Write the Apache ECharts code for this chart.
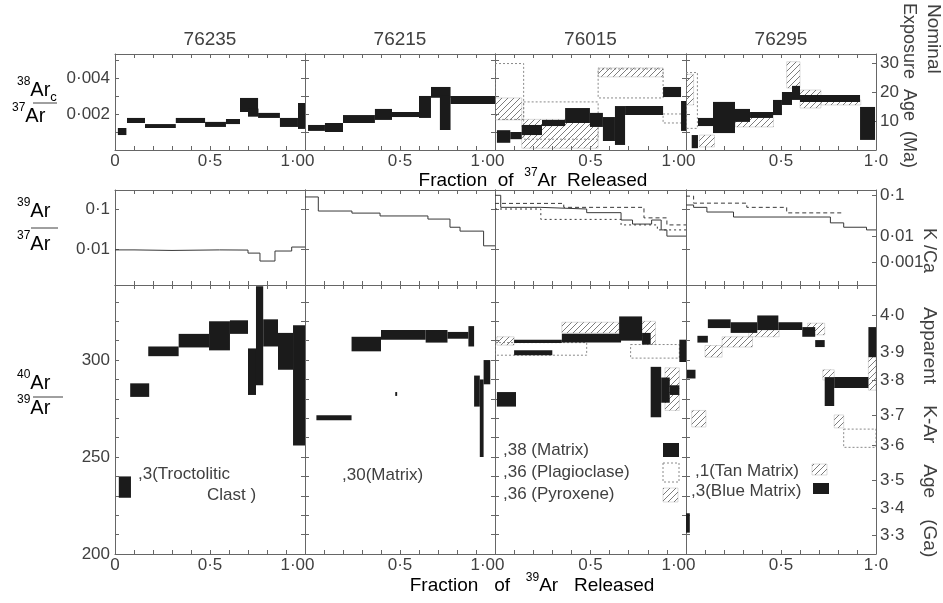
<!DOCTYPE html>
<html><head><meta charset="utf-8">
<script src="https://cdn.jsdelivr.net/npm/echarts@6/dist/echarts.min.js"></script>
<style>html,body{margin:0;padding:0;background:#fff}#c{width:943px;height:603px}</style>
</head><body><div id="c"></div>
<script>
// ---------------- DATA ----------------
const samples = ['76235', '76215', '76015', '76295'];
const xLabelValues = [0, 0.5, 1];
const xLabelText = ['0', '0·5', '1·0'];
// top row: 38Ar_c/37Ar boxes [x0, x1, low, high]
const top76235 = [[0.015,0.06,0.00083,0.00122],[0.063,0.158,0.0015,0.00178],[0.158,0.32,0.00122,0.00144],[0.32,0.474,0.0015,0.00178],[0.474,0.584,0.00128,0.00156],[0.584,0.658,0.00144,0.00172],[0.658,0.753,0.00211,0.00289],[0.7,0.755,0.00185,0.0023],[0.753,0.868,0.00178,0.00206],[0.868,0.963,0.00128,0.00178],[0.963,1.0,0.00117,0.00261]];
const top76215 = [[0.016,0.105,0.00106,0.00139],[0.105,0.2,0.001,0.0015],[0.2,0.368,0.0015,0.00194],[0.368,0.458,0.00167,0.00228],[0.458,0.6,0.00183,0.00211],[0.6,0.663,0.00178,0.003],[0.663,0.766,0.0029,0.0035],[0.71,0.766,0.00111,0.003],[0.766,1.0,0.00256,0.003]];
const top76015Matrix = [[0.01,0.08,0.0004,0.0011],[0.08,0.14,0.0006,0.001],[0.14,0.246,0.00083,0.00139],[0.246,0.367,0.00133,0.00167],[0.367,0.497,0.0015,0.00233],[0.497,0.565,0.00128,0.00206],[0.565,0.628,0.0005,0.00183],[0.628,0.681,0.00028,0.00244],[0.681,0.88,0.00194,0.00244],[0.88,0.974,0.00294,0.0035],[0.974,1.0,0.00106,0.00272]];
const top76015Pyx = [[0.0,0.14,0.00167,0.00289],[0.14,0.54,0.0001,0.0017],[0.54,0.88,0.00406,0.00456]];
const top76015Plag = [[0.0,0.15,0.0017,0.0048],[0.15,0.54,0.0006,0.00267],[0.54,0.88,0.00289,0.0045],[0.88,1.0,0.0015,0.002]];
const top76295Blue = [[0.03,0.063,0.0001,0.00083],[0.063,0.142,0.00133,0.00178],[0.142,0.258,0.00094,0.00267],[0.258,0.337,0.00156,0.00228],[0.337,0.458,0.00178,0.00211],[0.458,0.505,0.00194,0.00278],[0.505,0.558,0.0025,0.00322],[0.558,0.6,0.00278,0.00356],[0.6,0.916,0.00267,0.00306],[0.916,0.995,0.00056,0.00239]];
const top76295Tan = [[0.0,0.04,0.0025,0.0042],[0.07,0.15,0.00017,0.00083],[0.26,0.46,0.00128,0.00194],[0.53,0.6,0.00344,0.0049],[0.6,0.71,0.00233,0.00333],[0.71,0.92,0.0025,0.00278]];
const top76295Dash = [[0.0,0.06,0.0012,0.0043]];
// middle row: 39Ar/37Ar steps [x0, x1, value]
const mid76235 = [[0,0.1,0.0095],[0.1,0.3,0.0092],[0.3,0.55,0.0095],[0.55,0.7,0.0094],[0.7,0.763,0.0079],[0.763,0.842,0.005],[0.842,0.93,0.0089],[0.93,1.0,0.0112]];
const mid76215 = [[0,0.07,0.2],[0.07,0.247,0.089],[0.247,0.395,0.079],[0.395,0.647,0.067],[0.647,0.763,0.056],[0.763,0.816,0.035],[0.816,0.94,0.028],[0.94,1.0,0.012]];
const mid76015Matrix = [[0,0.03,0.22],[0.03,0.24,0.11],[0.24,0.48,0.1],[0.48,0.66,0.081],[0.66,0.72,0.053],[0.72,0.82,0.042],[0.82,0.87,0.053],[0.87,0.9,0.03],[0.9,1.0,0.021]];
const mid76015Plag = [[0,0.36,0.138],[0.36,0.78,0.11],[0.78,0.9,0.06],[0.9,1.0,0.04]];
const mid76015Pyx = [[0,0.24,0.1],[0.24,0.66,0.055],[0.66,0.85,0.04],[0.85,1.0,0.03]];
const mid76295Blue = [[0,0.04,0.126],[0.04,0.11,0.11],[0.11,0.25,0.084],[0.25,0.76,0.063],[0.76,0.83,0.045],[0.83,0.95,0.035],[0.95,1.0,0.03]];
const mid76295Tan = [[0,0.04,0.21],[0.04,0.32,0.14],[0.32,0.53,0.11],[0.53,0.83,0.08]];
// bottom row: 40Ar/39Ar boxes [x0, x1, low, high]
const bot76235 = [[0.02,0.084,229,240],[0.08,0.18,281,288],[0.175,0.335,302,307],[0.335,0.495,306.5,313.5],[0.495,0.605,305,320],[0.605,0.7,313.5,320.5],[0.7,0.742,282,306],[0.742,0.78,287,338],[0.78,0.858,307,321],[0.858,0.937,295,314],[0.937,1.0,256,318]];
const bot76215 = [[0.06,0.245,269,271.5],[0.475,0.485,281.5,283.5],[0.245,0.4,304.5,312],[0.4,0.635,310.5,315.5],[0.635,0.75,309,315.5],[0.75,0.86,311,314.5],[0.86,0.89,307,317.5],[0.89,0.92,276,292],[0.92,0.94,250,290],[0.94,0.975,287.5,300]];
const bot76015Matrix = [[0.01,0.11,276,283.5],[0.1,0.35,308.8,310.5],[0.1,0.3,302.5,305],[0.35,0.66,309,313.5],[0.65,0.77,310,322.5],[0.77,0.815,308,314],[0.815,0.87,270.5,296.5],[0.87,0.915,278,291],[0.915,0.965,282,287],[0.965,1.0,299,310.5]];
const bot76015Pyx = [[0.01,0.1,307.7,312],[0.35,0.65,313.9,319.5],[0.77,0.84,308,320],[0.89,0.965,274,296]];
const bot76015Plag = [[0.0,0.48,302.5,309],[0.71,0.965,301,308]];
const bot76295Blue = [[0.0,0.02,211,221],[0.005,0.05,290.5,295],[0.06,0.115,309,312.5],[0.115,0.235,316.5,321],[0.235,0.375,314,319.5],[0.375,0.486,315.5,323],[0.486,0.612,315.5,319.5],[0.612,0.68,312,317],[0.68,0.73,306.7,310.3],[0.73,0.78,276.3,291.2],[0.78,0.96,285.6,291.2],[0.96,1.0,301.5,317]];
const bot76295Tan = [[0.03,0.105,265.5,274],[0.1,0.19,301.5,307.5],[0.19,0.35,306.7,312],[0.33,0.49,312,315.5],[0.64,0.73,313,319],[0.72,0.78,289.7,295],[0.78,0.83,265,271.7],[0.96,1.0,284.5,301.5]];
const bot76295Dash = [[0.83,1.0,255,264.4]];
// axis tick labels
const topLeftTicks = [0.002, 0.004], topLeftText = ['0·002', '0·004'];
const expTicks = [10, 20, 30], expText = ['10', '20', '30'];
const midLeftTicks = [-1, -2], midLeftText = ['0·1', '0·01'];
const kcaTickAt = [-0.65, -1.675, -2.325], kcaText = ['0·1', '0·01', '0·001'];
const botLeftTicks = [200, 250, 300], botLeftText = ['200', '250', '300'];
const ageTickAt = [323.2, 304.2, 289.7, 271.7, 256.2, 238.2, 223.7, 209.8];
const ageText = ['4·0', '3·9', '3·8', '3·7', '3·6', '3·5', '3·4', '3·3'];

// ---------------- LAYOUT / STYLE ----------------
const FONT = 'Liberation Sans';
const TXT = '#404040';
const AX = '#666';
const COLS = [115, 305, 495, 686, 876];
const ROWS = [[54, 150], [190, 285], [285, 554]];
const YR = [[0, 0.00533], [-2.9, -0.525], [200, 338.7]];
const EXP_MAX = 33.1;

function hatchCanvas() {
  const c = document.createElement('canvas'); c.width = 6; c.height = 6;
  const g = c.getContext('2d'); g.strokeStyle = '#6e6e6e'; g.lineWidth = 0.9;
  g.beginPath(); g.moveTo(0, 6); g.lineTo(6, 0); g.moveTo(-1, 1); g.lineTo(1, -1); g.moveTo(5, 7); g.lineTo(7, 5); g.stroke();
  return c;
}
const HATCH = { type: 'pattern', image: hatchCanvas(), repeat: 'repeat' };
function boxStyle(kind) {
  if (kind === 'solid') return { fill: '#1b1b1b' };
  if (kind === 'hatch') return { fill: HATCH, stroke: 'rgba(120,120,120,0.5)', lineWidth: 0.5 };
  return { fill: 'rgba(0,0,0,0)', stroke: '#8a8a8a', lineWidth: 1, lineDash: [2, 2] };
}
const fmt = (vals, txt) => (v) => { const i = vals.findIndex(a => Math.abs(a - v) < 1e-9); return i < 0 ? '' : txt[i]; };
const labelStyle = { fontFamily: FONT, fontSize: 17, color: TXT };

const grids = [], xAxes = [], yAxes = [], series = [];
for (let r = 0; r < 3; r++) {
  for (let c = 0; c < 4; c++) {
    const gi = r * 4 + c;
    grids.push({ left: COLS[c], width: COLS[c + 1] - COLS[c], top: ROWS[r][0], height: ROWS[r][1] - ROWS[r][0] });
    ['bottom', 'top'].forEach(pos => {
      const showLab = pos === 'bottom' && r !== 1;
      xAxes.push({
        type: 'value', gridIndex: gi, position: pos, min: 0, max: 1, interval: 0.1,
        axisLine: { show: true, onZero: false, lineStyle: { color: AX, width: 1 } },
        axisTick: { show: true, inside: true, length: 4, lineStyle: { color: AX } },
        splitLine: { show: false },
        axisLabel: showLab ? Object.assign({
          show: true, margin: 3, customValues: xLabelValues, formatter: fmt(xLabelValues, xLabelText),
          alignMinLabel: c > 0 ? 'left' : 'center', alignMaxLabel: c < 3 ? 'right' : 'center'
        }, labelStyle) : { show: false }
      });
    });
    ['left', 'right'].forEach(pos => {
      const ax = {
        type: 'value', gridIndex: gi, position: pos, min: YR[r][0], max: YR[r][1],
        axisLine: { show: true, onZero: false, lineStyle: { color: AX, width: 1 } },
        axisTick: { show: true, inside: true, length: 4, lineStyle: { color: AX } },
        splitLine: { show: false }, axisLabel: { show: false }
      };
      if (r === 0) ax.interval = 0.001;
      if (r === 1) ax.axisTick.customValues = midLeftTicks;
      if (r === 2) ax.interval = 10;
      if (pos === 'left' && c === 0) {
        const tv = [topLeftTicks, midLeftTicks, botLeftTicks][r], tt = [topLeftText, midLeftText, botLeftText][r];
        ax.axisLabel = Object.assign({ show: true, margin: 5, customValues: tv, formatter: fmt(tv, tt) }, labelStyle);
      }
      if (pos === 'right' && c === 3) {
        if (r === 0) { ax.min = 0; ax.max = EXP_MAX; delete ax.interval; ax.axisTick.customValues = expTicks;
          ax.axisLabel = Object.assign({ show: true, margin: 4, customValues: expTicks, formatter: fmt(expTicks, expText) }, labelStyle); }
        if (r === 1) { ax.axisTick.customValues = kcaTickAt;
          ax.axisLabel = Object.assign({ show: true, margin: 4, customValues: kcaTickAt, formatter: fmt(kcaTickAt, kcaText) }, labelStyle); }
        if (r === 2) { delete ax.interval; ax.axisTick.customValues = ageTickAt;
          ax.axisLabel = Object.assign({ show: true, margin: 4, customValues: ageTickAt, formatter: fmt(ageTickAt, ageText) }, labelStyle); }
      }
      yAxes.push(ax);
    });
  }
}

function boxSeries(gi, data, kind) {
  series.push({
    type: 'custom', xAxisIndex: 2 * gi, yAxisIndex: 2 * gi, data, clip: true, silent: true,
    z: kind === 'solid' ? 4 : (kind === 'hatch' ? 3 : 2),
    encode: { x: [0, 1], y: [2, 3] },
    renderItem: (p, api) => {
      const a = api.coord([api.value(0), api.value(3)]);
      const b = api.coord([api.value(1), api.value(2)]);
      return { type: 'rect', shape: { x: a[0], y: a[1], width: b[0] - a[0], height: b[1] - a[1] }, style: boxStyle(kind) };
    }
  });
}
function stepSeries(gi, steps, dash) {
  const pts = [];
  steps.forEach(s => { const v = Math.log10(s[2]); pts.push([s[0], v], [s[1], v]); });
  series.push({ type: 'line', xAxisIndex: 2 * gi, yAxisIndex: 2 * gi, data: pts, symbol: 'none', silent: true,
    lineStyle: { color: '#383838', width: 1, type: dash || 'solid' } });
}
// top row
boxSeries(0, top76235, 'solid');
boxSeries(1, top76215, 'solid');
boxSeries(2, top76015Plag, 'dash'); boxSeries(2, top76015Pyx, 'hatch'); boxSeries(2, top76015Matrix, 'solid');
boxSeries(3, top76295Dash, 'dash'); boxSeries(3, top76295Tan, 'hatch'); boxSeries(3, top76295Blue, 'solid');
// middle row
stepSeries(4, mid76235); stepSeries(5, mid76215);
stepSeries(6, mid76015Matrix); stepSeries(6, mid76015Plag, [4, 3]); stepSeries(6, mid76015Pyx, [2, 3]);
stepSeries(7, mid76295Blue); stepSeries(7, mid76295Tan, [4, 3]);
// bottom row
boxSeries(8, bot76235, 'solid');
boxSeries(9, bot76215, 'solid');
boxSeries(10, bot76015Plag, 'dash'); boxSeries(10, bot76015Pyx, 'hatch'); boxSeries(10, bot76015Matrix, 'solid');
boxSeries(11, bot76295Dash, 'dash'); boxSeries(11, bot76295Tan, 'hatch'); boxSeries(11, bot76295Blue, 'solid');

// ---------------- TEXT ----------------
const RICH = {
  t: { fontFamily: FONT, fontSize: 19, color: TXT, lineHeight: 28, verticalAlign: 'middle' },
  s: { fontFamily: FONT, fontSize: 12, color: TXT, lineHeight: 28, verticalAlign: 'top' },
  b: { fontFamily: FONT, fontSize: 20, color: TXT, lineHeight: 28, verticalAlign: 'middle' },
  u: { fontFamily: FONT, fontSize: 13, color: TXT, lineHeight: 28, verticalAlign: 'bottom' }
};
function rtext(x, y, text, align) {
  return { type: 'text', x, y, silent: true, style: { text, rich: RICH, align: align || 'left', verticalAlign: 'middle' } };
}
function ptext(x, y, text, size, align, rot) {
  return { type: 'text', x, y, rotation: rot || 0, silent: true,
    style: { text, fontFamily: FONT, fontSize: size, fill: TXT, align: align || 'left', verticalAlign: 'middle' } };
}
function bar(x1, x2, y) { return { type: 'line', silent: true, shape: { x1, y1: y, x2, y2: y }, style: { stroke: TXT, lineWidth: 1 } }; }
function swatch(x, y, w, h, kind) { return { type: 'rect', silent: true, shape: { x, y, width: w, height: h }, style: boxStyle(kind) }; }

const graphic = [];
samples.forEach((s, c) => graphic.push(ptext((COLS[c] + COLS[c + 1]) / 2, 40, s, 19, 'center')));
graphic.push(
  rtext(17, 90, '{s|38}{b|Ar}{u|c}'), bar(33, 57, 103), rtext(12, 116, '{s|37}{b|Ar}'),
  rtext(17, 211, '{s|39}{b|Ar}'), bar(31, 58, 228), rtext(17, 244, '{s|37}{b|Ar}'),
  rtext(17, 383, '{s|40}{b|Ar}'), bar(33, 63, 397), rtext(17, 408, '{s|39}{b|Ar}'),
  rtext(533, 181, '{t|Fraction  of  }{s|37}{t|Ar  Released}', 'center'),
  rtext(532, 586, '{t|Fraction   of   }{s|39}{t|Ar   Released}', 'center'),
  ptext(933, 4, 'Nominal', 19, 'left', -Math.PI / 2),
  ptext(909, 3, 'Exposure  Age  (Ma)', 18, 'left', -Math.PI / 2),
  ptext(929, 228, 'K /Ca', 18, 'left', -Math.PI / 2),
  ptext(929, 307, 'Apparent    K-Ar    Age    (Ga)', 19, 'left', -Math.PI / 2),
  ptext(138, 474, ',3(Troctolitic', 17), ptext(207, 495, 'Clast )', 17),
  ptext(342, 475, ',30(Matrix)', 17),
  ptext(503, 450, ',38 (Matrix)', 17), ptext(503, 472, ',36 (Plagioclase)', 17), ptext(503, 494, ',36 (Pyroxene)', 17),
  swatch(663, 443, 16, 14, 'solid'), swatch(663, 463, 16, 19, 'dash'), swatch(663, 488, 15, 14, 'hatch'),
  ptext(695, 471, ',1(Tan Matrix)', 17), ptext(691, 491, ',3(Blue Matrix)', 17),
  swatch(812, 464, 15, 11, 'hatch'), swatch(813, 483, 16, 11, 'solid')
);

const chart = echarts.init(document.getElementById('c'), null, { renderer: 'canvas' });
chart.setOption({ animation: false, backgroundColor: '#fff', grid: grids, xAxis: xAxes, yAxis: yAxes, series, graphic });
</script></body></html>
